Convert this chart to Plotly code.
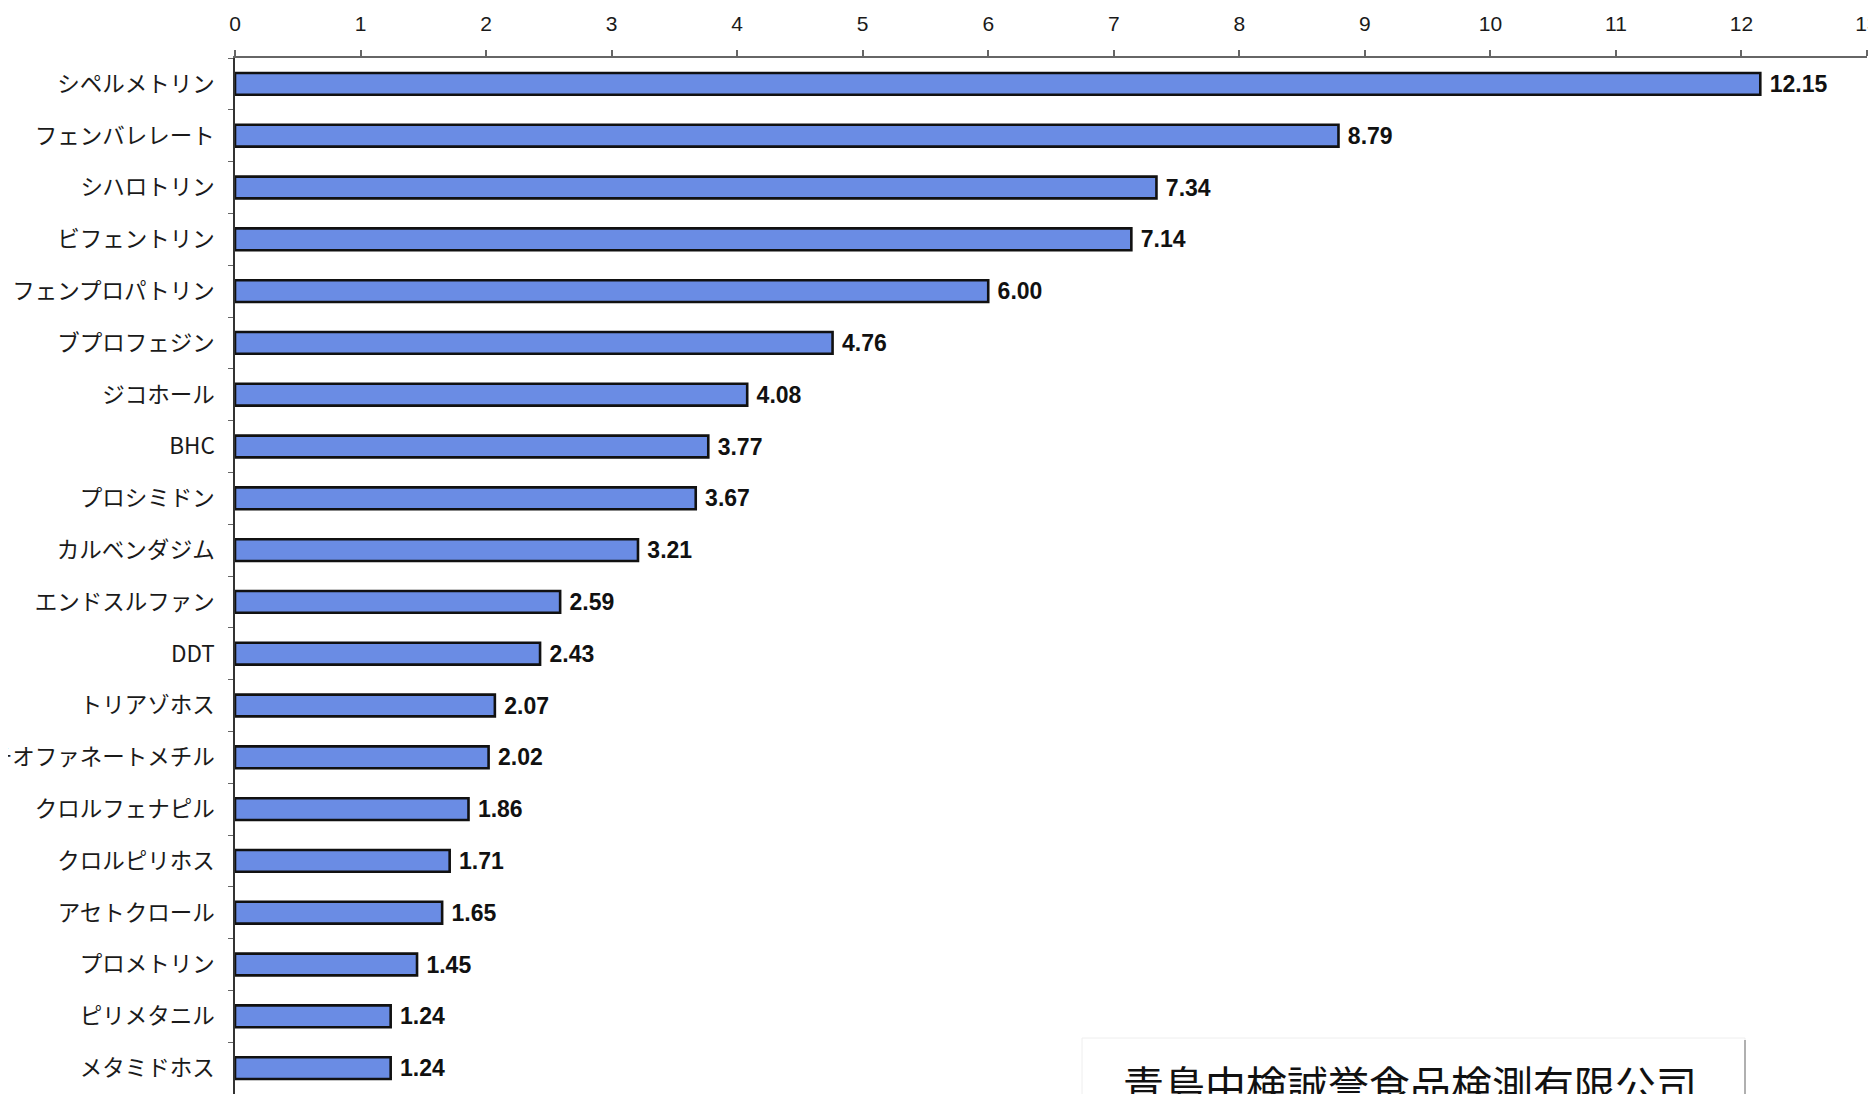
import plotly.graph_objects as go

# ---- data ----
categories = [
    "シペルメトリン", "フェンバレレート", "シハロトリン", "ビフェントリン",
    "フェンプロパトリン", "ブプロフェジン", "ジコホール", "BHC",
    "プロシミドン", "カルベンダジム", "エンドスルファン", "DDT",
    "トリアゾホス", "チオファネートメチル", "クロルフェナピル", "クロルピリホス",
    "アセトクロール", "プロメトリン", "ピリメタニル", "メタミドホス",
]
values = [12.15, 8.79, 7.34, 7.14, 6.00, 4.76, 4.08, 3.77, 3.67, 3.21,
          2.59, 2.43, 2.07, 2.02, 1.86, 1.71, 1.65, 1.45, 1.24, 1.24]
x_ticks = list(range(0, 14))
watermark = "青島中検誠誉食品検測有限公司"

# page offset of the figure inside the html body (default 8px body margin)
OFF = 8
W, H = 1876 - OFF, 1094 - OFF
ML, MT = 235 - OFF, 58 - OFF
MR = W - (1867 - OFF)
MB = 0

fig = go.Figure()
fig.add_trace(go.Bar(
    y=categories, x=values, orientation="h",
    marker=dict(color="#6A8CE4", line=dict(color="#111111", width=2.6)),
    texttemplate=" %{x:.2f}", textposition="outside", cliponaxis=False,
    constraintext="none",
    textfont=dict(family="Liberation Sans, Arial", size=23, color="#111111", weight="bold"),
    showlegend=False,
))

fig.update_layout(
    width=W, height=H,
    margin=dict(l=ML, r=MR, t=MT, b=MB, autoexpand=False),
    paper_bgcolor="white", plot_bgcolor="white",
    bargap=0.58,
    font=dict(family="Noto Sans CJK JP", color="#1a1a1a"),
)
fig.update_xaxes(
    side="top", range=[0, 13], tickvals=x_ticks, ticktext=[str(v) for v in x_ticks],
    showgrid=False, zeroline=False,
    showline=True, linecolor="#666666", linewidth=1.5,
    ticks="outside", ticklen=6, tickcolor="#666666", tickwidth=1.5,
    ticklabelstandoff=11, ticklabeloverflow="allow",
    tickfont=dict(family="Liberation Sans, Arial", size=21, color="#1a1a1a"),
    automargin=False,
)
fig.update_yaxes(
    autorange="reversed", showgrid=False, zeroline=False,
    showline=True, linecolor="#333333", linewidth=1.5,
    ticks="outside", ticklen=5, tickcolor="#666666", tickwidth=1.2,
    tickson="boundaries", ticklabelstandoff=14, ticklabeloverflow="allow",
    tickfont=dict(family="Noto Sans CJK JP", size=22.5, color="#1a1a1a"),
    automargin=False,
)

# stamp-like paper piece at bottom right (page pixel coordinates converted)
plot_w = W - ML - MR
plot_h = H - MT - MB
def px(xp):
    return (xp - OFF - ML) / plot_w
def py(yp):
    return (H - MB - (yp - OFF)) / plot_h

fig.add_shape(type="rect", xref="paper", yref="paper",
              x0=px(1082), x1=px(1745), y0=py(1110), y1=py(1038),
              fillcolor="white", line=dict(color="#EEEEEE", width=1), layer="below")
fig.add_shape(type="line", xref="paper", yref="paper",
              x0=px(1745), x1=px(1745), y0=py(1110), y1=py(1040),
              line=dict(color="#999999", width=1.5))
fig.add_annotation(
    text=watermark, xref="paper", yref="paper",
    x=px(1410), y=py(1083), xanchor="center", yanchor="middle",
    showarrow=False,
    font=dict(family="Noto Sans CJK JP", size=41, color="#111111"),
)

fig.write_html("out.html")
